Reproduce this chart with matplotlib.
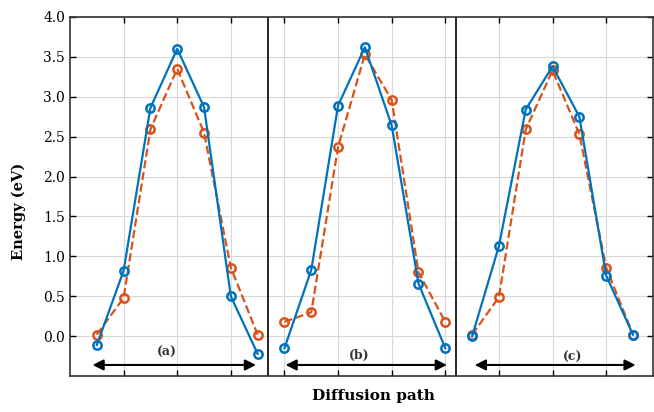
import matplotlib.pyplot as plt
import numpy as np

plt.rcParams['font.family'] = ['DejaVu Serif']

# diffusion path positions for the three panels
xa = [0.5, 1.0, 1.5, 2.0, 2.5, 3.0, 3.5]
xb = [4.0, 4.5, 5.0, 5.5, 6.0, 6.5, 7.0]
xc = [7.5, 8.0, 8.5, 9.0, 9.5, 10.0, 10.5]

# energies (eV)
blue_a = [-0.11, 0.82, 2.86, 3.60, 2.87, 0.50, -0.22]
orng_a = [0.02, 0.48, 2.59, 3.35, 2.55, 0.86, 0.02]
blue_b = [-0.15, 0.83, 2.89, 3.62, 2.64, 0.66, -0.15]
orng_b = [0.18, 0.30, 2.37, 3.53, 2.96, 0.80, 0.18]
blue_c = [0.0, 1.13, 2.84, 3.38, 2.75, 0.76, 0.02]
orng_c = [0.02, 0.49, 2.59, 3.33, 2.53, 0.86, 0.02]

dividers = [3.7, 7.2]
arrows = [(0.42, 3.47), (4.02, 7.03), (7.55, 10.55)]
labels = ['(a)', '(b)', '(c)']
label_x = [1.8, 5.4, 9.37]
label_y = [-0.2, -0.24, -0.27]

blue = '#0072BD'
orange = '#D95319'

fig = plt.figure(figsize=(6.54, 4.12), dpi=100)
ax = fig.add_axes([0.107, 0.087, 0.892, 0.872])

for xs, yb, yo in [(xa, blue_a, orng_a), (xb, blue_b, orng_b), (xc, blue_c, orng_c)]:
    ax.plot(xs, yo, '--o', color=orange, lw=1.6, ms=6, mfc='none', mew=1.8)
    ax.plot(xs, yb, '-o', color=blue, lw=1.6, ms=6, mfc='none', mew=1.8)

for d in dividers:
    ax.axvline(d, color='black', lw=1.2)

for (x0, x1), lab, lx, ly in zip(arrows, labels, label_x, label_y):
    ax.annotate('', xy=(x0, -0.36), xytext=(x1, -0.36),
                arrowprops=dict(arrowstyle='<|-|>', color='black', lw=1.5,
                                mutation_scale=16, shrinkA=0, shrinkB=0))
    ax.text(lx, ly, lab, ha='center', va='center', fontsize=9, fontweight='bold',
            color='#333333')

ax.set_xlim(0, 10.88)
ax.set_ylim(-0.5, 4.0)
ax.set_xticks(np.arange(1, 11))
ax.set_xticklabels([])
ax.set_yticks(np.arange(0, 4.01, 0.5))
ax.set_yticklabels(['%.1f' % v for v in np.arange(0, 4.01, 0.5)])
ax.tick_params(direction='in', top=True, right=True, labelsize=10, length=4, width=1)
ax.grid(True, color='#d8d8d8', lw=0.8)
for s in ax.spines.values():
    s.set_linewidth(1.2)
    s.set_color('#333333')

ax.set_ylabel('Energy (eV)', fontsize=10.5, fontweight='bold')
ax.yaxis.set_label_coords(-0.075, 0.46)
ax.set_xlabel('Diffusion path', fontsize=11, fontweight='bold')
ax.xaxis.set_label_coords(0.52, -0.035)

fig.savefig('out.png', dpi=100)
